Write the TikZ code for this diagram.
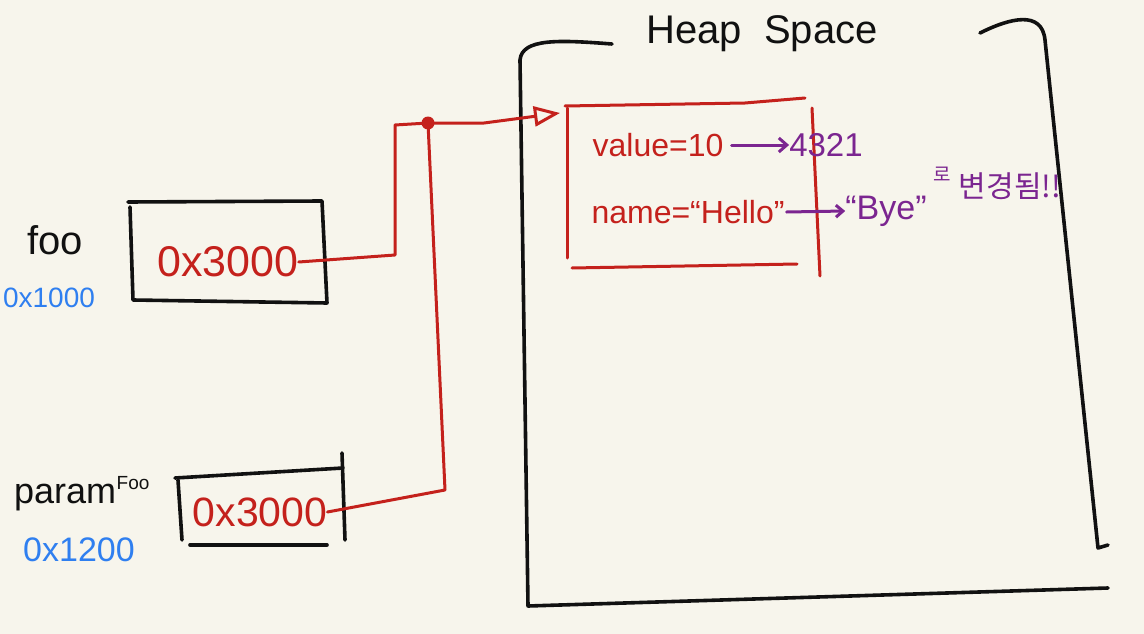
\documentclass[tikz,border=0pt]{standalone}
\usepackage{fontspec}
\setmainfont{Liberation Sans}
\newfontfamily\kofont{Noto Sans CJK KR}
\usetikzlibrary{arrows.meta}
\definecolor{paper}{HTML}{F7F5EC}
\definecolor{ink}{HTML}{111111}
\definecolor{pen}{HTML}{C4211C}
\definecolor{bluepen}{HTML}{2F7FF0}
\definecolor{purplepen}{HTML}{7B2590}
\tikzset{
  blackline/.style={draw=ink, line width=3.6pt, line cap=round, line join=round},
  redline/.style={draw=pen, line width=3pt, line cap=round, line join=round},
  purpleline/.style={draw=purplepen, line width=3pt, line cap=round},
  redtext/.style={text=pen, inner sep=0pt},
  purpletext/.style={text=purplepen, inner sep=0pt},
  bluetext/.style={text=bluepen, inner sep=0pt},
  blacktext/.style={text=ink, inner sep=0pt},
}
\begin{document}
\begin{tikzpicture}[x=1pt,y=-1pt]
\fill[paper] (0,0) rectangle (1144,634);
\useasboundingbox (0,0) rectangle (1144,634);

% ---- foo ----
\node[blacktext, font=\fontsize{40}{40}\selectfont] (fooname) at (55,240) {foo};
\node[bluetext, font=\fontsize{28}{28}\selectfont] (fooaddr) at (49,298) {0x1000};
\draw[blackline] (130,207) -- (133,300) -- (327,303) -- (322,201) -- (128,202);
\node[redtext, font=\fontsize{43}{43}\selectfont] (fooval) at (228,262) {0x3000};

% ---- paramFoo ----
\node[blacktext, anchor=base west, font=\fontsize{36}{36}\selectfont] (pname) at (14,503) {param};
\node[blacktext, anchor=base west, font=\fontsize{19}{19}\selectfont] (pname2) at (pname.base east) [yshift=14pt] {Foo};
\node[bluetext, font=\fontsize{34}{34}\selectfont] (paddr) at (79,550) {0x1200};
\draw[blackline] (175,478) -- (343,468);
\draw[blackline] (178,480) -- (182,540);
\draw[blackline] (190,545) -- (327,545);
\draw[blackline] (342,453) -- (345,540);
\node[redtext, font=\fontsize{41}{41}\selectfont] (pval) at (260,512) {0x3000};

% ---- heap space ----
\node[blacktext, font=\fontsize{40}{40}\selectfont] (heaptitle) at (762,34) {Heap\ \ Space};
\draw[blackline] (612,44) .. controls (560,40) and (522,38) .. (520,60) -- (528,606) -- (1108,588);
\draw[blackline] (980,33) .. controls (1010,18) and (1042,10) .. (1045,40) -- (1098,548) -- (1108,545);

% ---- object ----
\draw[redline] (565,106) -- (745,103) -- (805,98);
\draw[redline] (567,108) -- (567,258);
\draw[redline] (812,108) -- (820,276);
\draw[redline] (572,268) -- (797,264);
\node[redtext, font=\fontsize{32}{32}\selectfont] (valfield) at (658,145) {value=10};
\node[redtext, font=\fontsize{32}{32}\selectfont] (namefield) at (688,212) {name=“Hello”};
\node[purpletext, font=\fontsize{33}{33}\selectfont] (newval) at (826,145) {4321};
\node[purpletext, font=\fontsize{34}{34}\selectfont] (newname) at (886,211) {“Bye”};
\node[purpletext, font=\kofont\fontsize{19}{19}\selectfont] (ro) at (942,174) {로};
\node[purpletext, font=\kofont\fontsize{30}{30}\selectfont] (changed) at (1010,186) {변경됨!!};
\draw[purpleline, -{Straight Barb[length=8pt,width=14pt]}] (valfield.east) ++(8,0) -- (newval.west);
\draw[purpleline, -{Straight Barb[length=7pt,width=12pt]}] (namefield.east) ++(2,0) -- (newname.west);

% ---- references ----
\coordinate (jA) at (395,255);
\coordinate (jB) at (395,125);
\coordinate (merge) at (428,123);
\coordinate (jC) at (445,490);
\coordinate (objin) at (560,113);
\draw[redline] (fooval.east) -- (jA) -- (jB) -- (merge);
\draw[redline] (pval.east) -- (jC) -- (merge);
\draw[redline, -{Triangle[open, length=26pt, width=20pt, line width=3pt]}] (merge) -- (484,123) -- (objin);
\fill[pen] (merge) circle (6.5pt);
\end{tikzpicture}
\end{document}
